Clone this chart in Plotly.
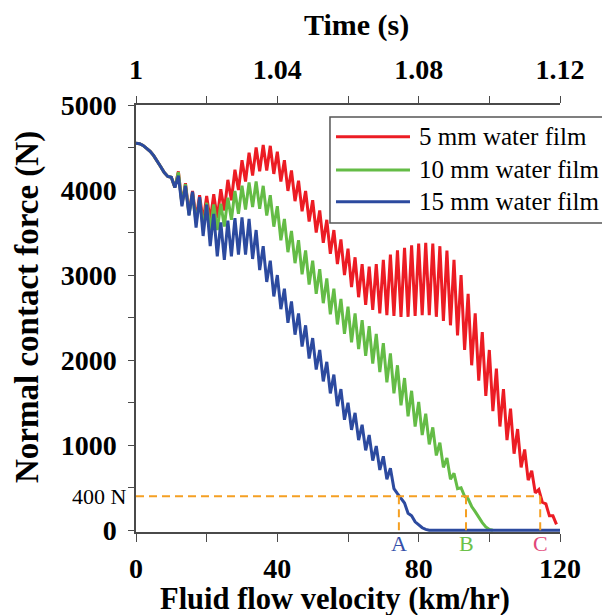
import plotly.graph_objects as go

# ---------------- data ----------------
start = [4550, 4545, 4525, 4495, 4455, 4405, 4345, 4275, 4205, 4160, 4150, 4030]

blue_15mm = start + [
    4170, 3810, 4050, 3700, 3980, 3560, 3920, 3460, 3830, 3340, 3720, 3220, 3620, 3180,
    3640, 3220, 3670, 3240, 3680, 3240, 3660, 3190, 3530, 3060, 3340, 2920, 3170, 2750,
    3000, 2600, 2840, 2440, 2690, 2300, 2550, 2160, 2410, 2020, 2260, 1890, 2120, 1750,
    1980, 1610, 1830, 1460, 1660, 1300, 1500, 1180, 1380, 1060, 1240, 940, 1120, 820,
    990, 710, 870, 600, 730, 490, 430, 370, 320, 200, 170, 100, 60, 30, 10] + [0] * 38

green_10mm = start + [
    4210, 3830, 4070, 3710, 3960, 3620, 3890, 3560, 3850, 3530, 3830, 3530, 3840, 3570,
    3910, 3650, 3990, 3720, 4050, 3770, 4090, 3800, 4100, 3780, 4050, 3700, 3940, 3570,
    3810, 3410, 3660, 3270, 3520, 3140, 3410, 3010, 3290, 2890, 3170, 2780, 3070, 2670,
    2960, 2540, 2840, 2420, 2720, 2310, 2630, 2210, 2550, 2130, 2470, 2050, 2400, 1960,
    2310, 1860, 2200, 1740, 2080, 1610, 1940, 1470, 1790, 1340, 1640, 1220, 1510, 1120,
    1370, 1010, 1210, 880, 1030, 740, 850, 600, 670, 490, 500, 400, 370, 280, 220, 150,
    90, 40, 10, 0]

red_5mm = start + [
    4220, 3840, 4080, 3730, 3990, 3660, 3940, 3630, 3930, 3640, 3950, 3670, 4010, 3760,
    4120, 3880, 4240, 4000, 4350, 4100, 4440, 4170, 4500, 4220, 4530, 4230, 4520, 4190,
    4450, 4100, 4350, 3990, 4230, 3870, 4110, 3750, 3990, 3630, 3880, 3500, 3760, 3380,
    3650, 3250, 3530, 3130, 3420, 3000, 3310, 2860, 3210, 2740, 3130, 2650, 3100, 2590,
    3130, 2550, 3180, 2530, 3240, 2520, 3290, 2510, 3320, 2510, 3350, 2520, 3370, 2530,
    3380, 2530, 3370, 2510, 3340, 2460, 3290, 2410, 3180, 2290, 3000, 2120, 2780, 1940,
    2550, 1760, 2330, 1580, 2120, 1400, 1900, 1220, 1660, 1060, 1430, 900, 1190, 740,
    950, 590, 700, 440, 480, 330, 310, 170, 170, 70]

velocity_blue = list(range(len(blue_15mm)))
velocity_green = list(range(len(green_10mm)))
velocity_red = list(range(len(red_5mm)))

series_names = ["5 mm water film", "10 mm water film", "15 mm water film"]
series_colors = ["#EC1C24", "#64BC46", "#2C4A9F"]

time_ticks = [1.0, 1.02, 1.04, 1.06, 1.08, 1.10, 1.12]
time_labels = ["1", "", "1.04", "", "1.08", "", "1.12"]
vel_ticks = [0, 20, 40, 60, 80, 100, 120]
vel_labels = ["0", "", "40", "", "80", "", "120"]
force_ticks = [0, 500, 1000, 1500, 2000, 2500, 3000, 3500, 4000, 4500, 5000]
force_labels = ["0", "", "1000", "", "2000", "", "3000", "", "4000", "", "5000"]

threshold = 400
crossing_velocity = [74.4, 93.4, 114.4]
crossing_labels = ["A", "B", "C"]
crossing_colors = ["#3650AA", "#6CC24A", "#E2477A"]

SERIF = "Liberation Serif"
AXC = "#4a4a4a"

fig = go.Figure()
for xs, ys, name, col in [(velocity_red, red_5mm, series_names[0], series_colors[0]),
                          (velocity_green, green_10mm, series_names[1], series_colors[1]),
                          (velocity_blue, blue_15mm, series_names[2], series_colors[2])]:
    fig.add_trace(go.Scatter(x=xs, y=ys, mode="lines", name=name,
                             line=dict(color=col, width=3), showlegend=False))

fig.add_trace(go.Scatter(x=[time_ticks[0], time_ticks[-1]], y=[None, None], xaxis="x2",
                         mode="lines", showlegend=False, hoverinfo="skip"))

tickfont = dict(family=SERIF, size=28, color="black", weight="bold")
axis_common = dict(showgrid=False, zeroline=False, showline=True, linecolor=AXC,
                   linewidth=1.5, ticks="outside", tickcolor=AXC, tickwidth=1.2,
                   tickfont=tickfont)

fig.update_layout(
    width=602, height=615,
    margin=dict(l=136, r=42, t=105, b=83),
    paper_bgcolor="white", plot_bgcolor="white",
    xaxis=dict(range=[0, 120], tickvals=vel_ticks, ticktext=vel_labels, ticklen=8,
               ticklabelstandoff=3, **axis_common),
    xaxis2=dict(range=[1.0, 1.12], overlaying="x", side="top", tickvals=time_ticks,
                ticktext=time_labels, ticklen=7, ticklabelstandoff=6, **axis_common),
    yaxis=dict(range=[-20, 5000], tickvals=force_ticks, ticktext=force_labels, ticklen=6,
               ticklabelstandoff=6, **axis_common),
)

# dashed 400 N threshold lines
dash = dict(color="#F5A023", width=2, dash="8px,5px")
fig.add_shape(type="line", xref="x", yref="y", x0=0, x1=crossing_velocity[-1],
              y0=threshold, y1=threshold, line=dash)
for cv in crossing_velocity:
    fig.add_shape(type="line", xref="x", yref="y", x0=cv, x1=cv, y0=threshold, y1=0,
                  line=dash)

for cv, lab, col in zip(crossing_velocity, crossing_labels, crossing_colors):
    fig.add_annotation(x=cv, xref="x", y=-0.027, yref="paper", text=lab, showarrow=False,
                       font=dict(family=SERIF, size=22, color=col), yanchor="middle")

fig.add_annotation(x=-0.017, xref="paper", y=threshold, yref="y", text="400 N",
                   showarrow=False, xanchor="right", yanchor="middle",
                   font=dict(family=SERIF, size=22, color="black"))

# titles
fig.add_annotation(x=0.519, y=1.187, xref="paper", yref="paper", text="Time (s)",
                   showarrow=False, yanchor="middle",
                   font=dict(family=SERIF, size=30, color="black", weight="bold"))
fig.add_annotation(x=0.469, y=-0.158, xref="paper", yref="paper",
                   text="Fluid flow velocity (km/hr)", showarrow=False, yanchor="middle",
                   font=dict(family=SERIF, size=30.5, color="black", weight="bold"))
fig.add_annotation(x=-0.2547, y=0.527, xref="paper", yref="paper",
                   text="Normal contact force (N)", showarrow=False,
                   font=dict(family=SERIF, size=33, color="black", weight="bold"),
                   textangle=-90, xanchor="center", yanchor="middle")

# legend box (manual)
fig.add_shape(type="rect", xref="paper", yref="paper", x0=0.4575, x1=1.12, y0=0.7237,
              y1=0.972, line=dict(color="#555555", width=1.5), fillcolor="white")
rows = [0.9258, 0.8478, 0.7735]
for name, col, yy in zip(series_names, series_colors, rows):
    fig.add_shape(type="line", xref="paper", yref="paper", x0=0.4717, x1=0.6462,
                  y0=yy, y1=yy, line=dict(color=col, width=3))
    fig.add_annotation(x=0.6627, y=yy, xref="paper", yref="paper", text=name,
                       showarrow=False, xanchor="left", yanchor="middle",
                       font=dict(family=SERIF, size=25, color="black"))

fig.write_html("out.html")
